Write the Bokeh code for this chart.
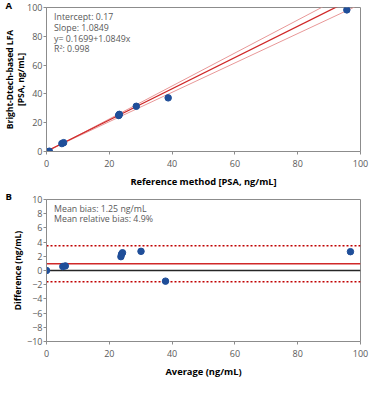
from bokeh.plotting import figure
from bokeh.models import Range1d, Label, FixedTicker, Title
from bokeh.layouts import column
from bokeh.embed import file_html
from bokeh.resources import INLINE

# Panel A: method comparison
ref_psa = [0.0, 0.9, 4.9, 5.45, 23.0, 23.05, 23.2, 28.6, 38.75, 95.65]
lfa_psa = [0.0, 0.2, 5.5, 6.15, 25.0, 25.35, 25.8, 31.4, 37.25, 98.35]
fit_intercept = 0.1699
fit_slope = 1.0849
ci_upper_intercept = -0.3
ci_upper_slope = 1.145
ci_lower_intercept = 0.3
ci_lower_slope = 1.02
line_x = [0, 100]
stats_a = ["Intercept: 0.17", "Slope: 1.0849", "y= 0.1699+1.0849x", "R\u00b2: 0.998"]
x_ticks = [0, 20, 40, 60, 80, 100]
y_ticks_a = [0, 20, 40, 60, 80, 100]

# Panel B: Bland-Altman
avg_psa = [0.0, 5.2, 6.0, 23.7, 23.9, 24.2, 30.1, 37.9, 96.8]
diff_psa = [0.0, 0.56, 0.65, 1.95, 2.3, 2.5, 2.7, -1.5, 2.65]
mean_bias_line = 0.95
loa_upper = 3.5
loa_lower = -1.6
stats_b = ["Mean bias: 1.25 ng/mL", "Mean relative bias: 4.9%"]
y_ticks_b = [-10, -8, -6, -4, -2, 0, 2, 4, 6, 8, 10]

FONT = "Open Sans"
GRAY = "#595959"
AXIS = "#8c8c8c"
BLUE = "#1f4e99"
RED = "#d02828"
LIGHTRED = "#e89898"
H = 190


def style(p, xlabel, yticks, panel_letter, letter_standoff):
    p.outline_line_color = AXIS
    p.outline_line_width = 1
    p.xgrid.visible = False
    p.ygrid.visible = False
    for ax in (p.xaxis[0], p.yaxis[0]):
        ax.axis_line_color = AXIS
        ax.axis_line_width = 1
        ax.major_tick_line_color = AXIS
        ax.major_tick_out = 3
        ax.major_tick_in = 0
        ax.minor_tick_line_color = None
        ax.major_label_text_font = FONT
        ax.major_label_text_font_size = "9px"
        ax.major_label_text_color = GRAY
        ax.axis_label_text_font = FONT
        ax.axis_label_text_font_style = "bold"
        ax.axis_label_text_font_size = "9.3px"
        ax.axis_label_text_color = "black"
    p.xaxis[0].ticker = FixedTicker(ticks=x_ticks)
    p.yaxis[0].ticker = FixedTicker(ticks=yticks)
    p.xaxis[0].axis_label = xlabel
    p.xaxis[0].major_label_standoff = 5
    p.xaxis[0].axis_label_standoff = 5
    p.yaxis[0].major_label_standoff = 1
    p.title.text = panel_letter
    p.title.align = "left"
    p.title.offset = -41
    p.title.standoff = letter_standoff
    p.title.text_font = FONT
    p.title.text_font_style = "bold"
    p.title.text_font_size = "9.5px"
    p.title.text_color = "black"


def ytitle(p, text, standoff):
    p.add_layout(Title(text=text, align="center", standoff=standoff, text_font=FONT,
                       text_font_style="bold", text_font_size="8.5px",
                       text_color="black"), "left")


pa = figure(width=369, height=H, output_backend="svg", toolbar_location=None,
            x_range=Range1d(0, 100), y_range=Range1d(0, 100),
            min_border_left=46, min_border_right=9, min_border_top=5, min_border_bottom=36)
style(pa, "Reference method [PSA, ng/mL]", y_ticks_a, "A", -8)
ytitle(pa, "[PSA, ng/mL]", -2)
ytitle(pa, "Bright-Dtech-based LFA", -2)

pa.line(line_x, [ci_upper_intercept + ci_upper_slope * v for v in line_x], line_color=LIGHTRED, line_width=1)
pa.line(line_x, [ci_lower_intercept + ci_lower_slope * v for v in line_x], line_color=LIGHTRED, line_width=1)
pa.line(line_x, [fit_intercept + fit_slope * v for v in line_x], line_color=RED, line_width=1.3)
pa.scatter(ref_psa, lfa_psa, size=6.5, fill_color=BLUE, line_color=BLUE)

for i, t in enumerate(stats_a):
    pa.add_layout(Label(x=2.4, y=93.1 - i * 7.4, text=t, text_font=FONT,
                        text_font_size="8.8px", text_color=GRAY, text_baseline="middle"))

pb = figure(width=369, height=H, output_backend="svg", toolbar_location=None,
            x_range=Range1d(0, 100), y_range=Range1d(-10, 10),
            min_border_left=46, min_border_right=9, min_border_top=9, min_border_bottom=34)
style(pb, "Average (ng/mL)", y_ticks_b, "B", -6.5)
ytitle(pb, "Difference (ng/mL)", 4)

pb.line(line_x, [0, 0], line_color="#262626", line_width=1.3)
pb.line(line_x, [mean_bias_line, mean_bias_line], line_color=RED, line_width=1.3)
pb.line(line_x, [loa_upper, loa_upper], line_color="#c00000", line_width=1.5, line_dash="2 2")
pb.line(line_x, [loa_lower, loa_lower], line_color="#c00000", line_width=1.5, line_dash="2 2")
pb.scatter(avg_psa, diff_psa, size=6.5, fill_color=BLUE, line_color=BLUE)

for i, t in enumerate(stats_b):
    pb.add_layout(Label(x=2.4, y=8.65 - i * 1.45, text=t, text_font=FONT,
                        text_font_size="8.8px", text_color=GRAY, text_baseline="middle"))

layout = column(pa, pb, spacing=0)
open("out.html", "w").write(file_html(layout, INLINE))
